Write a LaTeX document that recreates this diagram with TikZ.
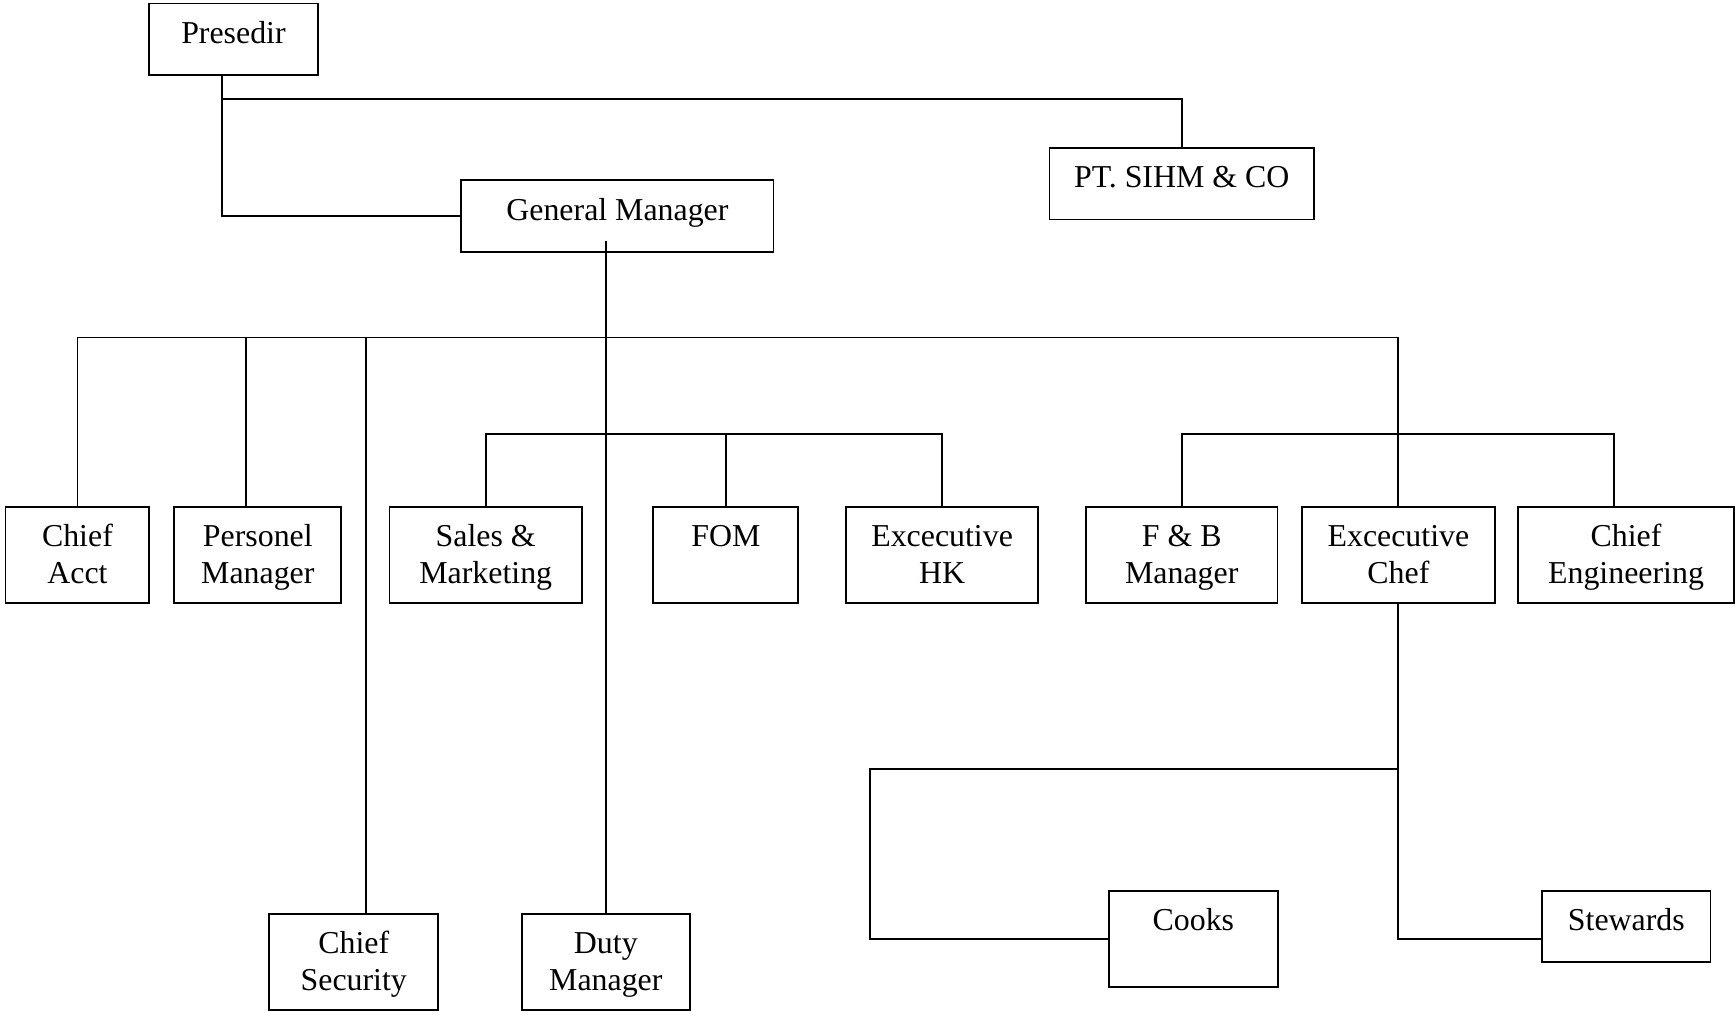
\documentclass[tikz,border=0pt]{standalone}
\usepackage{fontspec}
\setmainfont{Liberation Serif}

\newcommand{\pxu}{0.4166pt}
\tikzset{
	post/.style={draw, line width=0.7pt, anchor=north, align=center, inner xsep=0pt, inner ysep=0pt,
		font=\fontsize{12}{13.8}\selectfont},
	tall/.style={post, text height=28.8pt, text depth=7.4pt},
	tallone/.style={post, text height=15pt, text depth=21.2pt},
	short/.style={post, text height=15pt, text depth=11.9pt},
	link/.style={line width=0.7pt}
}

\begin{document}
\begin{tikzpicture}[x=0.4166pt, y=-0.4166pt]
		\useasboundingbox (0, 0) rectangle (1568, 914);

		% 上の段
		\node[short, minimum width=152*\pxu] (pres) at (211, 2.3) {Presedir};
		\node[short, minimum width=239*\pxu] (pt) at (1068, 133) {PT. SIHM \& CO};
		\node[short, minimum width=282*\pxu] (gm) at (558, 162) {General Manager};

		% 部門の段
		\node[tall, minimum width=130*\pxu] (acct) at (70, 457) {Chief\\Acct};
		\node[tall, minimum width=151*\pxu] (pers) at (233, 457) {Personel\\Manager};
		\node[tall, minimum width=174*\pxu] (sales) at (439, 457) {Sales \&\\Marketing};
		\node[tallone, minimum width=131*\pxu] (fom) at (656, 457) {FOM};
		\node[tall, minimum width=174*\pxu] (hk) at (851.4, 457) {Excecutive\\HK};
		\node[tall, minimum width=173*\pxu] (fb) at (1068, 457) {F \& B\\Manager};
		\node[tall, minimum width=174*\pxu] (chef) at (1263.8, 457) {Excecutive\\Chef};
		\node[tall, minimum width=195*\pxu] (eng) at (1469.5, 457) {Chief\\Engineering};

		% 下の段
		\node[tall, minimum width=153*\pxu] (sec) at (319.7, 825) {Chief\\Security};
		\node[tall, minimum width=152*\pxu] (duty) at (547.5, 825) {Duty\\Manager};
		\node[tallone, minimum width=153*\pxu] (cooks) at (1078.5, 804) {Cooks};
		\node[short, minimum width=152*\pxu] (stew) at (1469.8, 804) {Stewards};

		% 線を描画
		\coordinate (presTap) at (pres.south -| 201,0);
		\coordinate (ptJoin) at (201, 89.5);
		\draw[link] (presTap) |- (gm.west);
		\draw[link] (ptJoin) -| (pt.north);

		\coordinate (gmTap) at (duty.north |- 0,217.5);
		\draw[link] (gmTap) -- (duty.north);
		\draw[link] (acct.north) -- (acct.north |- 0,305) -| (chef.north);
		\coordinate (persTap) at (222, 305);
		\draw[link] (persTap) -- (persTap |- pers.north);
		\coordinate (secTap) at (331, 305);
		\draw[link] (secTap) -- (secTap |- sec.north);

		\draw[link] (sales.north) -- ++(0, -65) -| (hk.north);
		\draw[link] (fom.north) -- ++(0, -65);
		\draw[link] (fb.north) -- ++(0, -65) -| (eng.north -| 1459,0);

		% キッチン
		\coordinate (kitchen) at (786, 695);
		\draw[link] (chef.south) |- (kitchen) |- (cooks.west);
		\draw[link] (chef.south) |- (stew.west |- cooks.west);
\end{tikzpicture}
\end{document}
